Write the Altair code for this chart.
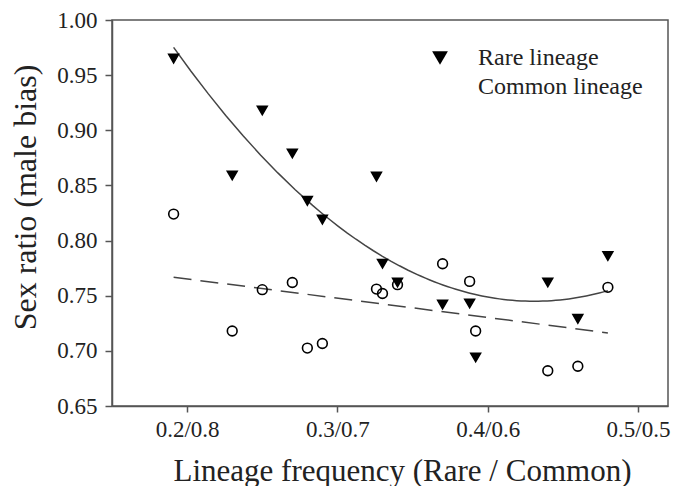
import altair as alt
import pandas as pd

# Lineage frequency (rare share) for each population
freq = [0.191, 0.230, 0.250, 0.270, 0.280, 0.290, 0.326, 0.330, 0.340,
        0.370, 0.388, 0.392, 0.440, 0.460, 0.480]
# Sex ratio (male bias)
rare_ratio = [0.965, 0.859, 0.918, 0.879, 0.836, 0.819, 0.858, 0.779, 0.762,
              0.742, 0.743, 0.694, 0.762, 0.729, 0.786]
common_ratio = [0.824, 0.718, 0.7555, 0.762, 0.7025, 0.7067, 0.756, 0.752, 0.760,
                0.779, 0.763, 0.718, 0.682, 0.686, 0.7576]

groups = ["Rare lineage", "Common lineage"]
x_ticks = [0.2, 0.3, 0.4, 0.5]
x_tick_labels = ["0.2/0.8", "0.3/0.7", "0.4/0.6", "0.5/0.5"]
y_ticks = [0.65, 0.70, 0.75, 0.80, 0.85, 0.90, 0.95, 1.00]

rows = []
for x, y in zip(freq, rare_ratio):
    rows.append({"x": x, "y": y, "group": groups[0]})
for x, y in zip(freq, common_ratio):
    rows.append({"x": x, "y": y, "group": groups[1]})
df = pd.DataFrame(rows)

label_expr = " : ".join(
    f"datum.value > {v - 0.001} && datum.value < {v + 0.001} ? '{l}'"
    for v, l in zip(x_ticks, x_tick_labels)
) + " : ''"

FONT = "Liberation Serif"
AX = "#555555"
TXT = "#222222"

xscale = alt.Scale(domain=[0.15, 0.52], nice=False, zero=False)
yscale = alt.Scale(domain=[0.65, 1.00], nice=False, zero=False)

axis_common = dict(grid=False, domainColor=AX, domainWidth=1.5, tickColor=AX, tickWidth=1.5,
                   labelFont=FONT, labelFontSize=23, labelColor=TXT,
                   titleFont=FONT, titleFontWeight="normal", titleColor=TXT)

xaxis = alt.Axis(values=x_ticks, labelExpr=label_expr, title="Lineage frequency (Rare / Common)",
                 tickSize=6, labelPadding=6, titlePadding=15, titleFontSize=31,
                 titleX=290, **axis_common)
yaxis = alt.Axis(values=y_ticks, format=".2f", title="Sex ratio (male bias)",
                 tickSize=7, labelPadding=8, titlePadding=14, titleFontSize=32,
                 titleY=177, **axis_common)

legend_kw = dict(title=None, orient="none", legendX=316, legendY=26,
                 symbolSize=250, symbolStrokeWidth=1.6,
                 labelFont=FONT, labelFontSize=24, labelColor=TXT, labelLimit=400,
                 labelOffset=26, rowPadding=5, padding=0,
                 symbolStrokeColor="black")

base = alt.Chart(df)

points = base.mark_point(size=95, strokeWidth=1.6, opacity=1).encode(
    x=alt.X("x:Q", scale=xscale, axis=xaxis),
    y=alt.Y("y:Q", scale=yscale, axis=yaxis),
    shape=alt.Shape("group:N", scale=alt.Scale(domain=groups, range=["triangle-down", "circle"]),
                    legend=alt.Legend(**legend_kw)),
    fill=alt.Fill("group:N", scale=alt.Scale(domain=groups, range=["black", "transparent"]),
                  legend=alt.Legend(**legend_kw)),
    stroke=alt.value("black"),
)

rare_fit = base.transform_filter(alt.datum.group == groups[0]).transform_regression(
    "x", "y", method="poly", order=2, extent=[0.191, 0.48]
).mark_line(color="#444", strokeWidth=1.5).encode(
    x=alt.X("x:Q", scale=xscale), y=alt.Y("y:Q", scale=yscale))

common_fit = base.transform_filter(alt.datum.group == groups[1]).transform_regression(
    "x", "y", method="linear", extent=[0.191, 0.48]
).mark_line(color="#444", strokeWidth=1.5, strokeDash=[18, 9]).encode(
    x=alt.X("x:Q", scale=xscale), y=alt.Y("y:Q", scale=yscale))

chart = alt.layer(rare_fit, common_fit, points).properties(
    width=556, height=386,
    background="white",
    autosize=alt.AutoSizeParams(type="none"),
    padding={"left": 104, "top": 12, "right": 12, "bottom": 80},
).configure_view(
    stroke=AX, strokeWidth=1.5
)

chart.save("out.html", embed_options={"renderer": "svg", "actions": False})
